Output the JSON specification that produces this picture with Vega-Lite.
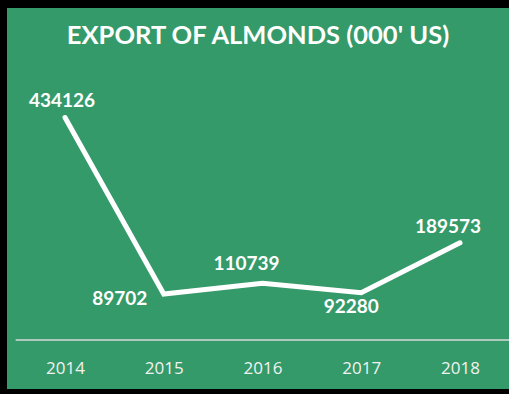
{
  "$schema": "https://vega.github.io/schema/vega-lite/v6.json",
  "width": 502,
  "height": 381,
  "autosize": {"type": "none"},
  "padding": {"left": 7, "top": 8, "right": 0, "bottom": 5},
  "background": "#000000",
  "config": {
    "view": {"fill": "#359a69", "stroke": null}
  },
  "title": {
    "text": "EXPORT OF ALMONDS (000' US)",
    "font": "Lato",
    "fontWeight": "bold",
    "fontSize": 25.5,
    "color": "#ffffff",
    "anchor": "middle",
    "baseline": "alphabetic",
    "offset": -61
  },
  "data": {
    "values": [
      {"year": 2014, "export": 434126},
      {"year": 2015, "export": 89702},
      {"year": 2016, "export": 110739},
      {"year": 2017, "export": 92280},
      {"year": 2018, "export": 189573}
    ]
  },
  "resolve": {"scale": {"x": "shared", "y": "shared"}},
  "layer": [
    {
      "data": {"values": [{"start": 2013.5, "end": 2018.5, "level": 0}]},
      "mark": {"type": "rule", "color": "#d9d9d9", "strokeWidth": 1.5},
      "encoding": {
        "x": {
          "field": "start",
          "type": "quantitative",
          "scale": {"domain": [2013.4127, 2018.4962], "nice": false, "zero": false},
          "axis": {
            "values": [2014, 2015, 2016, 2017, 2018],
            "format": "d",
            "title": null,
            "domain": false,
            "ticks": false,
            "tickSize": 0,
            "grid": false,
            "labelColor": "#f2f2f2",
            "labelFont": "Open Sans",
            "labelFontSize": 17,
            "labelBaseline": "middle",
            "labelPadding": 0,
            "labelFlush": false,
            "labelOverlap": false,
            "offset": -21
          }
        },
        "x2": {"field": "end"},
        "y": {
          "field": "level",
          "type": "quantitative",
          "scale": {"domain": [-95619, 647865], "nice": false, "zero": false},
          "axis": null
        }
      }
    },
    {
      "mark": {"type": "line", "color": "#ffffff", "strokeWidth": 5, "strokeCap": "round"},
      "encoding": {
        "x": {"field": "year", "type": "quantitative"},
        "y": {"field": "export", "type": "quantitative"}
      }
    },
    {
      "transform": [{"filter": "datum.year == 2014"}],
      "mark": {"type": "text", "font": "Lato", "fontWeight": "bold", "fontSize": 19, "color": "#ffffff", "baseline": "middle", "dx": -3, "dy": -17},
      "encoding": {
        "x": {"field": "year", "type": "quantitative"},
        "y": {"field": "export", "type": "quantitative"},
        "text": {"field": "export", "type": "quantitative", "format": "d"}
      }
    },
    {
      "transform": [{"filter": "datum.year == 2015"}],
      "mark": {"type": "text", "font": "Lato", "fontWeight": "bold", "fontSize": 19, "color": "#ffffff", "baseline": "middle", "dx": -44, "dy": 5},
      "encoding": {
        "x": {"field": "year", "type": "quantitative"},
        "y": {"field": "export", "type": "quantitative"},
        "text": {"field": "export", "type": "quantitative", "format": "d"}
      }
    },
    {
      "transform": [{"filter": "datum.year == 2016"}],
      "mark": {"type": "text", "font": "Lato", "fontWeight": "bold", "fontSize": 19, "color": "#ffffff", "baseline": "middle", "dx": -16, "dy": -19},
      "encoding": {
        "x": {"field": "year", "type": "quantitative"},
        "y": {"field": "export", "type": "quantitative"},
        "text": {"field": "export", "type": "quantitative", "format": "d"}
      }
    },
    {
      "transform": [{"filter": "datum.year == 2017"}],
      "mark": {"type": "text", "font": "Lato", "fontWeight": "bold", "fontSize": 19, "color": "#ffffff", "baseline": "middle", "dx": -10, "dy": 14},
      "encoding": {
        "x": {"field": "year", "type": "quantitative"},
        "y": {"field": "export", "type": "quantitative"},
        "text": {"field": "export", "type": "quantitative", "format": "d"}
      }
    },
    {
      "transform": [{"filter": "datum.year == 2018"}],
      "mark": {"type": "text", "font": "Lato", "fontWeight": "bold", "fontSize": 19, "color": "#ffffff", "baseline": "middle", "dx": -12, "dy": -16},
      "encoding": {
        "x": {"field": "year", "type": "quantitative"},
        "y": {"field": "export", "type": "quantitative"},
        "text": {"field": "export", "type": "quantitative", "format": "d"}
      }
    }
  ]
}
